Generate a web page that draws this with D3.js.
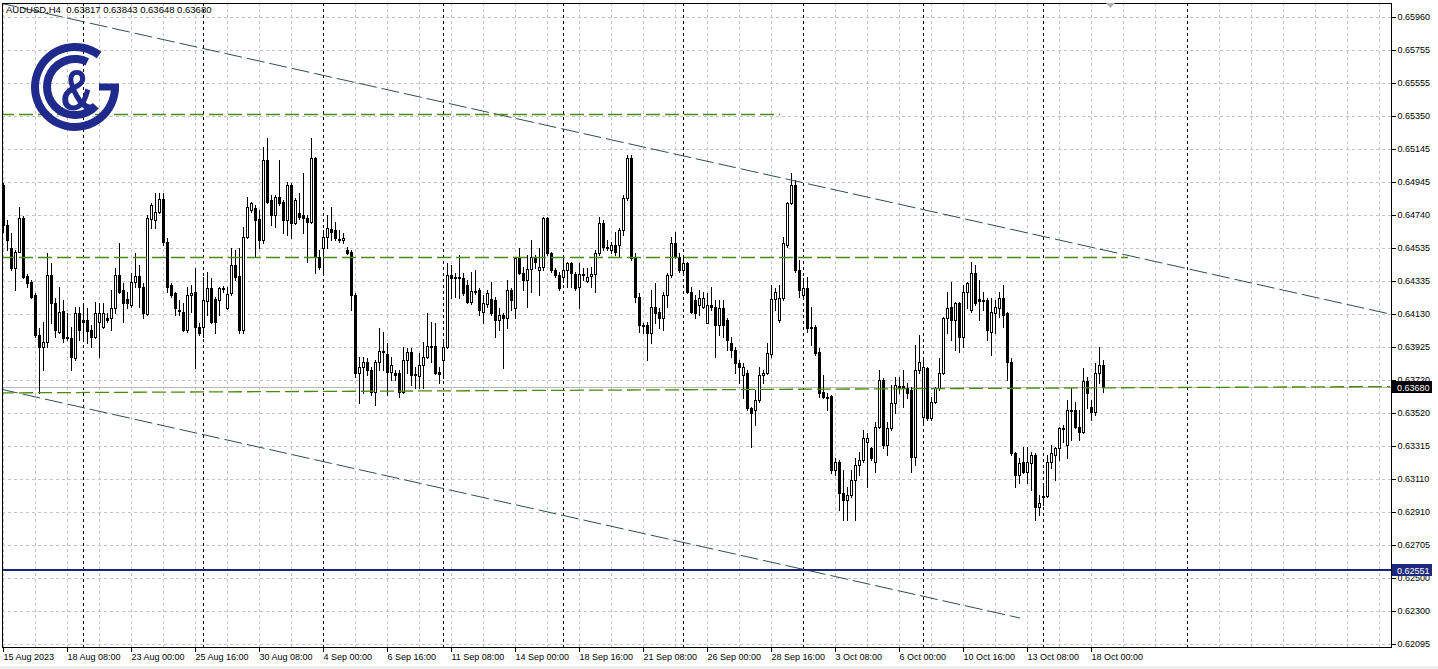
<!DOCTYPE html>
<html><head><meta charset="utf-8">
<script src="https://cdn.jsdelivr.net/npm/d3@7"></script>
<style>
html,body{margin:0;padding:0;background:#fff;overflow:hidden}
svg{display:block}
text{font-family:"Liberation Sans",Arial,sans-serif}
</style>
</head><body>
<svg id="c" width="1438" height="669"></svg>
<script>
// ---------------- DATA ----------------
const symbolTitle = "AUDUSD,H4  0.63817 0.63843 0.63648 0.63680";

const open = [
0.64924,0.64678,0.64536,0.64413,0.64512,0.64721,0.64364,0.64327,0.64246,0.64000,
0.63926,0.63957,0.64370,0.64197,0.64019,0.64148,0.63988,0.63982,0.63858,0.64135,
0.64093,0.64093,0.64031,0.63988,0.64080,0.64049,0.64105,0.64105,0.64166,0.64370,
0.64277,0.64222,0.64185,0.64327,0.64364,0.64296,0.64129,0.64715,0.64709,0.64758,
0.64838,0.64573,0.64308,0.64259,0.64154,0.64142,0.64031,0.64246,0.64265,0.64049,
0.64049,0.64209,0.64290,0.64222,0.64216,0.64290,0.64166,0.64259,0.64431,0.64364,
0.64031,0.64604,0.64770,0.64782,0.64715,0.64586,0.65079,0.64832,0.64739,0.64851,
0.64820,0.64709,0.64924,0.64690,0.64752,0.64739,0.64721,0.64696,0.65091,0.64481,
0.64536,0.64604,0.64653,0.64647,0.64592,0.64586,0.64524,0.64512,0.64246,0.63766,
0.63803,0.63834,0.63785,0.63649,0.63834,0.63895,0.63883,0.63772,0.63766,0.63766,
0.63649,0.63846,0.63895,0.63760,0.63748,0.63815,0.63864,0.63932,0.63932,0.63772,
0.63846,0.63926,0.64370,0.64357,0.64351,0.64351,0.64308,0.64203,0.64265,0.64277,
0.64142,0.64191,0.64222,0.64216,0.64093,0.64123,0.64105,0.64277,0.64166,0.64475,
0.64382,0.64339,0.64407,0.64481,0.64401,0.64419,0.64721,0.64506,0.64401,0.64370,
0.64357,0.64401,0.64444,0.64376,0.64296,0.64376,0.64333,0.64364,0.64376,0.64506,
0.64690,0.64542,0.64524,0.64555,0.64555,0.64647,0.64844,0.65091,0.64475,0.64234,
0.64062,0.64062,0.64012,0.64172,0.64142,0.64105,0.64246,0.64370,0.64567,0.64481,
0.64401,0.64444,0.64265,0.64216,0.64185,0.64172,0.64074,0.64185,0.64172,0.64062,
0.64166,0.64093,0.63951,0.63908,0.63828,0.63754,0.63766,0.63550,0.63538,0.63600,
0.63754,0.63766,0.63883,0.64222,0.64093,0.64228,0.64555,0.64814,0.64924,0.64401,
0.64246,0.64290,0.64049,0.64049,0.63895,0.63649,0.63618,0.63624,0.63169,0.63218,
0.63027,0.62984,0.63014,0.63107,0.63199,0.63230,0.63341,0.63304,0.63218,0.63434,
0.63723,0.63322,0.63427,0.63581,0.63686,0.63686,0.63673,0.63661,0.63249,0.63785,
0.63495,0.63797,0.63489,0.63587,0.63673,0.63766,0.64105,0.64172,0.64093,0.64197,
0.63988,0.64265,0.64154,0.64382,0.64222,0.64216,0.64216,0.64019,0.64135,0.64166,
0.64228,0.64135,0.63834,0.63273,0.63138,0.63218,0.63156,0.63212,0.63261,0.62941,
0.63002,0.63008,0.63218,0.63261,0.63304,0.63421,0.63322,0.63532,0.63538,0.63434,
0.63403,0.63717,0.63556,0.63526,0.63766,0.63817];

const high = [
0.64937,0.64709,0.64628,0.64524,0.64789,0.64733,0.64376,0.64339,0.64259,0.64043,
0.64080,0.64506,0.64444,0.64228,0.64296,0.64216,0.64135,0.64049,0.64172,0.64172,
0.64185,0.64166,0.64062,0.64203,0.64197,0.64197,0.64135,0.64277,0.64413,0.64567,
0.64320,0.64265,0.64382,0.64506,0.64431,0.64320,0.64739,0.64814,0.64875,0.64875,
0.64875,0.64598,0.64320,0.64265,0.64216,0.64197,0.64296,0.64308,0.64413,0.64074,
0.64357,0.64388,0.64351,0.64234,0.64296,0.64302,0.64296,0.64536,0.64524,0.64536,
0.64665,0.64851,0.64820,0.64801,0.64770,0.65159,0.65214,0.64863,0.64863,0.65079,
0.64832,0.64943,0.64937,0.64844,0.64875,0.64999,0.64739,0.65214,0.65097,0.64524,
0.64647,0.64739,0.64789,0.64696,0.64647,0.64629,0.64542,0.64524,0.64259,0.63864,
0.63864,0.63858,0.63803,0.63846,0.64043,0.64019,0.63951,0.63864,0.63785,0.63785,
0.63926,0.63920,0.63920,0.63803,0.63889,0.63957,0.64135,0.64080,0.64074,0.63803,
0.63969,0.64444,0.64431,0.64382,0.64493,0.64382,0.64339,0.64388,0.64401,0.64290,
0.64246,0.64277,0.64327,0.64234,0.64166,0.64135,0.64339,0.64290,0.64481,0.64536,
0.64419,0.64493,0.64586,0.64493,0.64536,0.64727,0.64727,0.64512,0.64413,0.64388,
0.64475,0.64450,0.64450,0.64388,0.64444,0.64413,0.64413,0.64419,0.64524,0.64727,
0.64709,0.64586,0.64573,0.64635,0.64659,0.64863,0.65109,0.65109,0.64506,0.64259,
0.64074,0.64080,0.64277,0.64320,0.64166,0.64265,0.64382,0.64604,0.64635,0.64506,
0.64493,0.64450,0.64296,0.64246,0.64277,0.64265,0.64259,0.64296,0.64216,0.64216,
0.64216,0.64105,0.63988,0.63926,0.63846,0.63828,0.63785,0.63556,0.63661,0.63803,
0.63785,0.63951,0.64308,0.64290,0.64308,0.64604,0.64820,0.64999,0.64955,0.64462,
0.64351,0.64357,0.64172,0.64062,0.63920,0.63754,0.63643,0.63630,0.63242,0.63230,
0.63169,0.63064,0.63169,0.63242,0.63279,0.63415,0.63397,0.63310,0.63464,0.63785,
0.63735,0.63464,0.63692,0.63741,0.63741,0.63785,0.63705,0.63680,0.63939,0.64000,
0.63846,0.63803,0.63618,0.63680,0.63858,0.64111,0.64265,0.64327,0.64203,0.64203,
0.64308,0.64327,0.64450,0.64431,0.64339,0.64265,0.64228,0.64228,0.64216,0.64265,
0.64308,0.64142,0.63858,0.63279,0.63242,0.63310,0.63310,0.63279,0.63273,0.63014,
0.63076,0.63261,0.63322,0.63310,0.63434,0.63446,0.63600,0.63673,0.63587,0.63538,
0.63797,0.63741,0.63600,0.63828,0.63926,0.63843];

const low = [
0.64635,0.64524,0.64401,0.64277,0.64512,0.64351,0.64296,0.64228,0.63988,0.63643,
0.63785,0.63926,0.64074,0.63988,0.64012,0.63957,0.63969,0.63785,0.63846,0.63969,
0.63969,0.63951,0.63926,0.63982,0.63864,0.64043,0.64080,0.64031,0.64135,0.64259,
0.64080,0.64166,0.64172,0.64296,0.64172,0.64105,0.64123,0.64659,0.64659,0.64752,
0.64555,0.64265,0.64234,0.64123,0.64123,0.64025,0.64019,0.64142,0.63797,0.64000,
0.63988,0.64123,0.64074,0.64012,0.64123,0.64265,0.64160,0.64246,0.64339,0.64012,
0.64012,0.64598,0.64758,0.64481,0.64536,0.64567,0.64814,0.64678,0.64665,0.64801,
0.64629,0.64616,0.64598,0.64684,0.64715,0.64629,0.64450,0.64690,0.64382,0.64407,
0.64382,0.64536,0.64586,0.64586,0.64573,0.64567,0.64499,0.64154,0.63741,0.63581,
0.63643,0.63754,0.63630,0.63569,0.63785,0.63785,0.63630,0.63723,0.63723,0.63618,
0.63643,0.63766,0.63692,0.63673,0.63673,0.63673,0.63858,0.63834,0.63760,0.63705,
0.63735,0.63920,0.64228,0.64234,0.64228,0.64246,0.64197,0.64191,0.64253,0.64123,
0.64074,0.64172,0.64123,0.63988,0.64031,0.63797,0.64043,0.64154,0.64105,0.64376,
0.64277,0.64172,0.64265,0.64413,0.64246,0.64401,0.64493,0.64388,0.64357,0.64277,
0.64327,0.64296,0.64296,0.64277,0.64166,0.64339,0.64327,0.64296,0.64265,0.64493,
0.64524,0.64524,0.64506,0.64493,0.64481,0.64616,0.64832,0.64462,0.64203,0.64019,
0.64012,0.63846,0.63951,0.64074,0.64043,0.64031,0.64172,0.64357,0.64475,0.64388,
0.64388,0.64259,0.64135,0.64105,0.64123,0.64166,0.64074,0.64154,0.63864,0.64000,
0.63988,0.63908,0.63864,0.63766,0.63705,0.63612,0.63538,0.63310,0.63446,0.63587,
0.63705,0.63760,0.63864,0.64154,0.64080,0.64216,0.64542,0.64807,0.64388,0.64234,
0.64228,0.64019,0.63939,0.63877,0.63618,0.63612,0.63538,0.63150,0.63138,0.62922,
0.62861,0.62861,0.63002,0.62861,0.63138,0.63218,0.63064,0.63230,0.63156,0.63427,
0.63304,0.63261,0.63415,0.63520,0.63643,0.63556,0.63612,0.63156,0.63199,0.63766,
0.63458,0.63477,0.63477,0.63581,0.63661,0.63760,0.64012,0.63969,0.63908,0.63895,
0.63926,0.64166,0.64142,0.64185,0.64093,0.64154,0.63969,0.63877,0.64012,0.64111,
0.64049,0.63723,0.63261,0.63064,0.63088,0.63150,0.63088,0.63045,0.62861,0.62891,
0.62953,0.63002,0.63181,0.63107,0.63230,0.63341,0.63242,0.63353,0.63427,0.63353,
0.63397,0.63550,0.63477,0.63507,0.63705,0.63648];

const close = [
0.64678,0.64586,0.64413,0.64512,0.64721,0.64357,0.64320,0.64234,0.64000,0.63926,
0.63957,0.64370,0.64197,0.64031,0.64142,0.63982,0.63982,0.63864,0.64135,0.64031,
0.64080,0.64025,0.63988,0.64135,0.64135,0.64135,0.64093,0.64166,0.64370,0.64265,
0.64197,0.64197,0.64327,0.64364,0.64296,0.64135,0.64721,0.64801,0.64758,0.64838,
0.64573,0.64296,0.64246,0.64166,0.64148,0.64031,0.64246,0.64259,0.64049,0.64012,
0.64216,0.64290,0.64080,0.64080,0.64290,0.64283,0.64253,0.64431,0.64357,0.64031,
0.64604,0.64789,0.64814,0.64709,0.64586,0.65079,0.64820,0.64739,0.64851,0.64814,
0.64709,0.64924,0.64690,0.64832,0.64727,0.64721,0.64696,0.65091,0.64481,0.64419,
0.64604,0.64659,0.64635,0.64598,0.64586,0.64598,0.64506,0.64246,0.63766,0.63803,
0.63834,0.63785,0.63649,0.63834,0.63901,0.63901,0.63772,0.63815,0.63754,0.63649,
0.63846,0.63895,0.63754,0.63754,0.63815,0.63864,0.63932,0.63926,0.63766,0.63760,
0.63926,0.64370,0.64351,0.64351,0.64357,0.64259,0.64203,0.64271,0.64271,0.64154,
0.64197,0.64259,0.64135,0.64093,0.64123,0.64105,0.64277,0.64216,0.64475,0.64382,
0.64339,0.64407,0.64481,0.64450,0.64419,0.64721,0.64506,0.64401,0.64370,0.64290,
0.64401,0.64444,0.64382,0.64290,0.64376,0.64370,0.64357,0.64376,0.64506,0.64690,
0.64542,0.64536,0.64555,0.64512,0.64647,0.64844,0.65091,0.64475,0.64234,0.64062,
0.64056,0.64012,0.64172,0.64135,0.64105,0.64246,0.64370,0.64567,0.64481,0.64401,
0.64444,0.64265,0.64142,0.64135,0.64228,0.64228,0.64185,0.64172,0.64062,0.64166,
0.64062,0.63969,0.63908,0.63828,0.63803,0.63803,0.63550,0.63519,0.63600,0.63754,
0.63766,0.63889,0.64222,0.64265,0.64228,0.64567,0.64814,0.64924,0.64401,0.64277,
0.64290,0.64043,0.64043,0.63889,0.63643,0.63618,0.63612,0.63169,0.63218,0.63027,
0.62984,0.63014,0.63107,0.63199,0.63230,0.63365,0.63365,0.63242,0.63434,0.63723,
0.63322,0.63427,0.63581,0.63692,0.63680,0.63673,0.63643,0.63249,0.63785,0.63834,
0.63803,0.63489,0.63587,0.63673,0.63766,0.64105,0.64166,0.64093,0.64197,0.63988,
0.64265,0.64320,0.64382,0.64197,0.64209,0.64209,0.64031,0.64142,0.64172,0.64228,
0.64123,0.63834,0.63273,0.63138,0.63212,0.63156,0.63218,0.63261,0.62941,0.62965,
0.63008,0.63218,0.63273,0.63304,0.63427,0.63427,0.63538,0.63538,0.63434,0.63403,
0.63717,0.63643,0.63526,0.63766,0.63815,0.63680];

// price axis tick labels
const priceTicks = [0.65960,0.65755,0.65555,0.65350,0.65145,0.64945,0.64740,0.64535,0.64335,0.64130,
                    0.63925,0.63720,0.63520,0.63315,0.63110,0.62910,0.62705,0.62500,0.62300,0.62095];
// time axis tick labels and the bar index each one belongs to
const timeLabels = ["15 Aug 2023","18 Aug 08:00","23 Aug 00:00","25 Aug 16:00","30 Aug 08:00","4 Sep 00:00",
  "6 Sep 16:00","11 Sep 08:00","14 Sep 00:00","18 Sep 16:00","21 Sep 08:00","26 Sep 00:00","28 Sep 16:00",
  "3 Oct 08:00","6 Oct 00:00","10 Oct 16:00","13 Oct 08:00","18 Oct 00:00"];
const timeLabelBars = [0,16,32,48,64,80,96,112,128,144,160,176,192,208,224,240,256,272];
// week separators (Monday 00:00), by bar index
const weekSeparatorBars = [20,50,80,110,140,170,200,230,260,296];

// drawn objects (bar index, price)
const upperTrend = [[-0.75,0.66046],[346.75,0.64129]];
const lowerTrend = [[-0.75,0.63667],[254.25,0.62255]];
const greenSupport = [[-0.75,0.63643],[346.75,0.63682]];
const greenLevels = [
  {price:0.65362, from:-0.75, to:194.25},
  {price:0.64481, from:-0.75, to:281.25}
];
const blueLevel = 0.62551;
const bidPrice = 0.63680;

// ---------------- CHART ----------------
const svg = d3.select("#c");
const P = {left:2, top:3, right:1391, bottom:647};
const x = d3.scaleLinear().domain([0,100]).range([3,403]);
const y = d3.scaleLinear().domain([0.62095,0.65960]).range([644,17]);
const xr = x.copy().interpolate(d3.interpolateRound);
const yr = y.copy().interpolate(d3.interpolateRound);

svg.append("rect").attr("width",1438).attr("height",669).attr("fill","#fff");
svg.append("rect").attr("x",0).attr("y",666).attr("width",1438).attr("height",3).attr("fill","#eeeeee");

svg.append("defs").append("clipPath").attr("id","clip")
  .append("rect").attr("x",P.left).attr("y",P.top).attr("width",P.right-P.left).attr("height",P.bottom-P.top);
const plot = svg.append("g").attr("clip-path","url(#clip)");

// grid
const grid = plot.append("g").attr("shape-rendering","crispEdges");
grid.selectAll("line.hg").data(priceTicks).join("line").attr("class","hg")
  .attr("x1",P.left).attr("x2",P.right).attr("y1",d=>yr(d)+0.5).attr("y2",d=>yr(d)+0.5)
  .attr("stroke","#c4c4c4").attr("stroke-dasharray","3,3");
grid.selectAll("line.vg").data(d3.range(0,348,8)).join("line").attr("class","vg")
  .attr("y1",P.top).attr("y2",P.bottom).attr("x1",d=>xr(d)+0.5).attr("x2",d=>xr(d)+0.5)
  .attr("stroke","#c4c4c4").attr("stroke-dasharray","3,3");
grid.selectAll("line.ws").data(weekSeparatorBars).join("line").attr("class","ws")
  .attr("y1",P.top).attr("y2",P.bottom).attr("x1",d=>xr(d)+0.5).attr("x2",d=>xr(d)+0.5)
  .attr("stroke","#000").attr("stroke-dasharray","3,3");

// bid line
plot.append("line").attr("x1",P.left).attr("x2",P.right)
  .attr("y1",yr(bidPrice)+0.5).attr("y2",yr(bidPrice)+0.5)
  .attr("stroke","#b8b8b8").attr("shape-rendering","crispEdges");

// candles
const bars = open.map((o,i)=>({i, o, h:high[i], l:low[i], c:close[i]}));
const cg = plot.append("g").attr("shape-rendering","crispEdges");
cg.selectAll("line.wick").data(bars).join("line").attr("class","wick")
  .attr("x1",d=>xr(d.i)+0.5).attr("x2",d=>xr(d.i)+0.5)
  .attr("y1",d=>yr(d.h)).attr("y2",d=>yr(d.l)+1).attr("stroke","#000");
cg.selectAll("rect.body").data(bars).join("rect").attr("class","body")
  .each(function(d){
    const p = xr(d.i);
    const t = yr(Math.max(d.o,d.c)), b = yr(Math.min(d.o,d.c));
    const h = b - t;
    const s = d3.select(this);
    if (d.c < d.o || h < 2) {
      s.attr("x",p-1).attr("y",t).attr("width",3).attr("height",Math.max(1,h+1)).attr("fill","#000");
    } else {
      s.attr("x",p-0.5).attr("y",t+0.5).attr("width",2).attr("height",h)
       .attr("fill","#fff").attr("stroke","#000");
    }
  });

// objects
const line = d3.line().x(d=>x(d[0])).y(d=>y(d[1]));
plot.append("path").attr("d",line(upperTrend)).attr("fill","none")
  .attr("stroke","#2f4f4f").attr("stroke-width",1).attr("stroke-dasharray","18,5");
plot.append("path").attr("d",line(lowerTrend)).attr("fill","none")
  .attr("stroke","#2f4f4f").attr("stroke-width",1).attr("stroke-dasharray","18,5");
plot.append("path").attr("d",line(greenSupport)).attr("fill","none")
  .attr("stroke","#4a8a0c").attr("stroke-width",1.3).attr("stroke-dasharray","14,5");
plot.selectAll("line.gl").data(greenLevels).join("line").attr("class","gl")
  .attr("x1",d=>x(d.from)).attr("x2",d=>x(d.to)).attr("y1",d=>yr(d.price)+0.5).attr("y2",d=>yr(d.price)+0.5)
  .attr("stroke","#4a8a0c").attr("stroke-width",1.3).attr("stroke-dasharray","14,5");
plot.append("line").attr("x1",P.left).attr("x2",P.right)
  .attr("y1",yr(blueLevel)).attr("y2",yr(blueLevel))
  .attr("stroke","#1a2478").attr("stroke-width",2).attr("shape-rendering","crispEdges");

// frame
svg.append("rect").attr("x",P.left+0.5).attr("y",P.top+0.5).attr("width",P.right-P.left).attr("height",P.bottom-P.top)
  .attr("fill","none").attr("stroke","#000").attr("shape-rendering","crispEdges");

// axes
const yAxis = d3.axisRight(yr).tickValues(priceTicks).tickFormat(d3.format(".5f")).tickSize(4).tickPadding(2);
const gy = svg.append("g").attr("transform",`translate(${P.right+0.5},0)`).call(yAxis);
gy.select(".domain").remove();
gy.selectAll("line").attr("shape-rendering","crispEdges");
gy.selectAll("text").attr("font-family","Liberation Sans, Arial, sans-serif").attr("font-size",9).attr("fill","#000");

const xAxis = d3.axisBottom(xr).tickValues(timeLabelBars).tickFormat((d,k)=>timeLabels[k]).tickSize(4).tickPadding(2);
const gx = svg.append("g").attr("transform",`translate(0,${P.bottom+0.5})`).call(xAxis);
gx.select(".domain").remove();
gx.selectAll("line").attr("shape-rendering","crispEdges");
gx.selectAll("text").attr("text-anchor","start").attr("x",0)
  .attr("font-family","Liberation Sans, Arial, sans-serif").attr("font-size",9).attr("fill","#000");

// price tags
function tag(price, bg){
  const yy = yr(price);
  svg.append("rect").attr("x",P.right+1).attr("y",yy-6).attr("width",40).attr("height",12).attr("fill",bg);
  svg.append("text").attr("x",P.right+6).attr("y",yy+3.5).attr("font-size",9).attr("fill","#fff")
    .text(d3.format(".5f")(price));
}
tag(bidPrice,"#000");
tag(blueLevel,"#1e2a7e");

// title
svg.append("text").attr("x",6).attr("y",13).attr("font-size",9.5).attr("fill","#000")
  .style("white-space","pre").text(symbolTitle);

// chart shift marker
svg.append("path").attr("d","M1106,3 L1115,3 L1110.5,8 Z").attr("fill","#b0b0b0");

// logo
const logo = svg.append("g").attr("transform","translate(75,87)").attr("fill","#1f2a8c");
const deg = Math.PI/180;
logo.append("path").attr("d", d3.arc()({innerRadius:36, outerRadius:44, startAngle:90*deg, endAngle:397*deg}));
logo.append("rect").attr("x",24).attr("y",-3.5).attr("width",20).attr("height",7);
logo.append("path").attr("d", d3.arc()({innerRadius:24, outerRadius:32, startAngle:132*deg, endAngle:386*deg}));
logo.append("text").attr("transform","translate(2,23) scale(0.82,1)").attr("text-anchor","middle")
  .attr("font-weight","bold").attr("font-size",57).attr("font-family","Liberation Sans, Arial, sans-serif").text("&");
</script>
</body></html>
